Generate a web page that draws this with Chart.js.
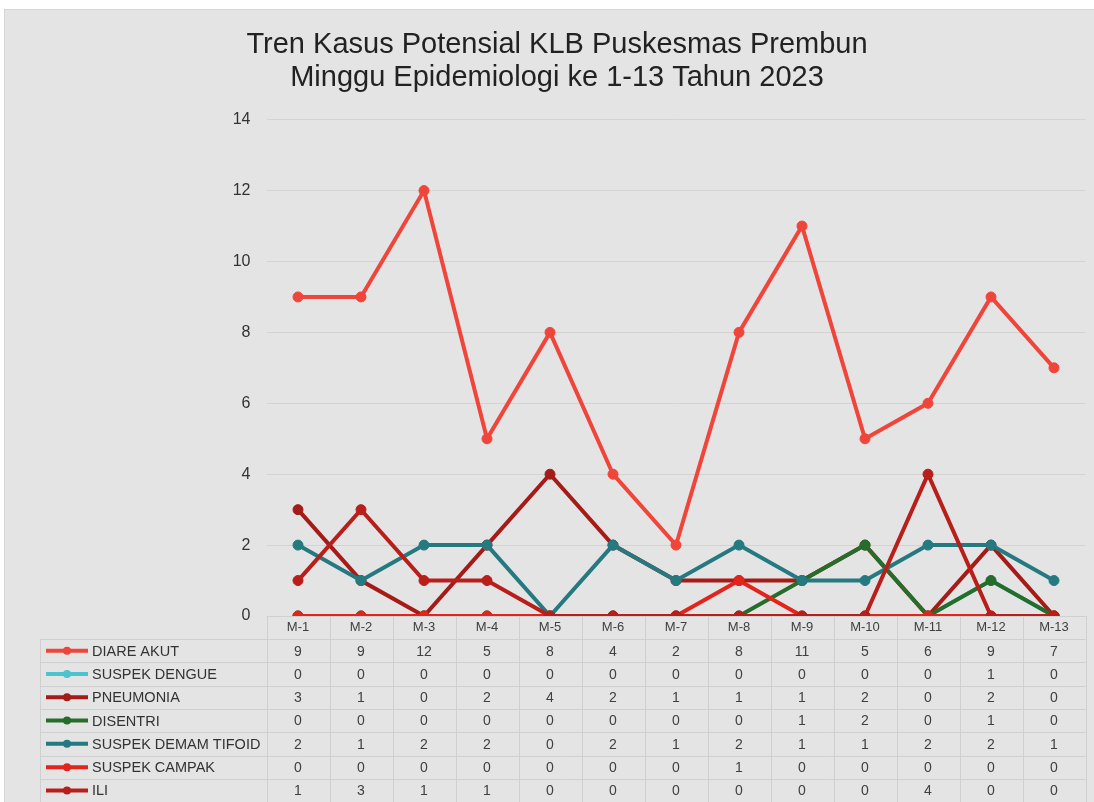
<!DOCTYPE html>
<html lang="id">
<head>
<meta charset="UTF-8">
<title>Tren Kasus Potensial KLB Puskesmas Prembun</title>
<script src="https://cdn.jsdelivr.net/npm/chart.js"></script>
<style>
    body {
        margin: 0;
        background: #ffffff;
        font-family: "Liberation Sans", Arial, sans-serif;
    }

    .kotak {
        position: absolute;
        left: 4px;
        top: 9px;
        width: 1090px;
        height: 793px;
        background: #e4e4e4;
        border-top: 1px solid #d6d6d6;
        border-left: 1px solid #d6d6d6;
    }

    canvas {
        display: block;
    }
</style>
</head>
<body>

<div class="kotak">
    <canvas id="grafikKlb" width="1089" height="792"></canvas>
</div>

<script>
    // data dari tabel minggu epidemiologi
    const minggu = ['M-1', 'M-2', 'M-3', 'M-4', 'M-5', 'M-6', 'M-7', 'M-8', 'M-9', 'M-10', 'M-11', 'M-12', 'M-13'];
    const diareAkut = [9, 9, 12, 5, 8, 4, 2, 8, 11, 5, 6, 9, 7];
    const suspekDengue = [0, 0, 0, 0, 0, 0, 0, 0, 0, 0, 0, 1, 0];
    const pneumonia = [3, 1, 0, 2, 4, 2, 1, 1, 1, 2, 0, 2, 0];
    const disentri = [0, 0, 0, 0, 0, 0, 0, 0, 1, 2, 0, 1, 0];
    const suspekDemamTifoid = [2, 1, 2, 2, 0, 2, 1, 2, 1, 1, 2, 2, 1];
    const suspekCampak = [0, 0, 0, 0, 0, 0, 0, 1, 0, 0, 0, 0, 0];
    const ili = [1, 3, 1, 1, 0, 0, 0, 0, 0, 0, 4, 0, 0];
    const tickY = [0, 2, 4, 6, 8, 10, 12, 14];

    const seri = [
        { nama: 'DIARE AKUT', data: diareAkut, warna: '#f0453a' },
        { nama: 'SUSPEK DENGUE', data: suspekDengue, warna: '#4cc3cf' },
        { nama: 'PNEUMONIA', data: pneumonia, warna: '#a51b17' },
        { nama: 'DISENTRI', data: disentri, warna: '#266c2b' },
        { nama: 'SUSPEK DEMAM TIFOID', data: suspekDemamTifoid, warna: '#247a80' },
        { nama: 'SUSPEK CAMPAK', data: suspekCampak, warna: '#e2241c' },
        { nama: 'ILI', data: ili, warna: '#b81e1a' }
    ];

    const kiriLegenda = 35;   // sisi kiri kolom legenda (koordinat canvas)
    const tinggiHeader = 23;
    const tinggiBaris = 23.3;

    // tabel data di bawah grafik
    const tabelData = {
        id: 'tabelData',
        afterDraw(chart) {
            const ctx = chart.ctx;
            const x = chart.scales.x;
            const area = chart.chartArea;
            const lebar = (x.right - x.left) / minggu.length;
            const atas = area.bottom;
            const bawah = atas + tinggiHeader + tinggiBaris * seri.length;

            ctx.save();
            ctx.strokeStyle = '#d0d0d0';
            ctx.lineWidth = 1;
            ctx.beginPath();
            ctx.moveTo(x.left, atas + 0.5);
            ctx.lineTo(x.right, atas + 0.5);
            for (let r = 0; r <= seri.length; r++) {
                const y = Math.round(atas + tinggiHeader + r * tinggiBaris) + 0.5;
                ctx.moveTo(kiriLegenda, y);
                ctx.lineTo(x.right, y);
            }
            for (let k = 0; k <= minggu.length; k++) {
                const xx = Math.round(x.left + k * lebar) + 0.5;
                ctx.moveTo(xx, atas);
                ctx.lineTo(xx, bawah);
            }
            ctx.moveTo(kiriLegenda + 0.5, atas + tinggiHeader);
            ctx.lineTo(kiriLegenda + 0.5, bawah);
            ctx.stroke();

            ctx.textBaseline = 'middle';
            seri.forEach((s, r) => {
                const yc = atas + tinggiHeader + r * tinggiBaris + tinggiBaris / 2;
                // contoh garis + titik
                ctx.strokeStyle = s.warna;
                ctx.fillStyle = s.warna;
                ctx.lineWidth = 4;
                ctx.beginPath();
                ctx.moveTo(kiriLegenda + 6, yc);
                ctx.lineTo(kiriLegenda + 48, yc);
                ctx.stroke();
                ctx.beginPath();
                ctx.arc(kiriLegenda + 27, yc, 4, 0, Math.PI * 2);
                ctx.fill();

                ctx.fillStyle = '#333333';
                ctx.textAlign = 'left';
                ctx.font = '14.5px "Liberation Sans", Arial, sans-serif';
                ctx.fillText(s.nama, kiriLegenda + 52, yc + 1);

                ctx.fillStyle = '#404040';
                ctx.textAlign = 'center';
                ctx.font = '14px "Liberation Sans", Arial, sans-serif';
                s.data.forEach((v, i) => {
                    ctx.fillText(String(v), x.getPixelForValue(i), yc + 1);
                });
            });
            ctx.restore();
        }
    };

    const ctx = document.getElementById('grafikKlb').getContext('2d');

    new Chart(ctx, {
        type: 'line',
        data: {
            labels: minggu,
            datasets: seri.map((s, i) => ({
                label: s.nama,
                data: s.data,
                borderColor: s.warna,
                backgroundColor: s.warna,
                pointBackgroundColor: s.warna,
                pointBorderColor: s.warna,
                borderWidth: 4,
                pointRadius: 5,
                pointBorderWidth: 1,
                tension: 0,
                order: seri.length - i
            }))
        },
        options: {
            responsive: false,
            animation: false,
            layout: {
                padding: { left: 23.5, right: 8.5, top: 0, bottom: 0 }
            },
            plugins: {
                legend: { display: false },
                tooltip: { enabled: false },
                title: {
                    display: true,
                    text: ['Tren Kasus Potensial KLB Puskesmas Prembun', 'Minggu Epidemiologi ke 1-13 Tahun 2023'],
                    color: '#222222',
                    font: { size: 29, weight: 'normal', family: '"Liberation Sans", Arial, sans-serif', lineHeight: 1.15 },
                    padding: { top: 18, bottom: 25 }
                }
            },
            scales: {
                x: {
                    offset: true,
                    grid: { display: false, drawTicks: false },
                    border: { display: false },
                    ticks: {
                        color: '#404040',
                        padding: 4,
                        maxRotation: 0,
                        font: { size: 13, family: '"Liberation Sans", Arial, sans-serif' }
                    },
                    afterFit(scale) {
                        scale.height = 186;
                    }
                },
                y: {
                    min: 0,
                    max: 14,
                    afterBuildTicks(scale) {
                        scale.ticks = tickY.map(v => ({ value: v }));
                    },
                    grid: { color: '#d3d3d3', lineWidth: 1, drawTicks: false },
                    border: { display: false },
                    ticks: {
                        color: '#333333',
                        padding: 16,
                        font: { size: 16, family: '"Liberation Sans", Arial, sans-serif' }
                    },
                    afterFit(scale) {
                        scale.width = 238;
                    }
                }
            }
        },
        plugins: [tabelData]
    });
</script>

</body>
</html>
